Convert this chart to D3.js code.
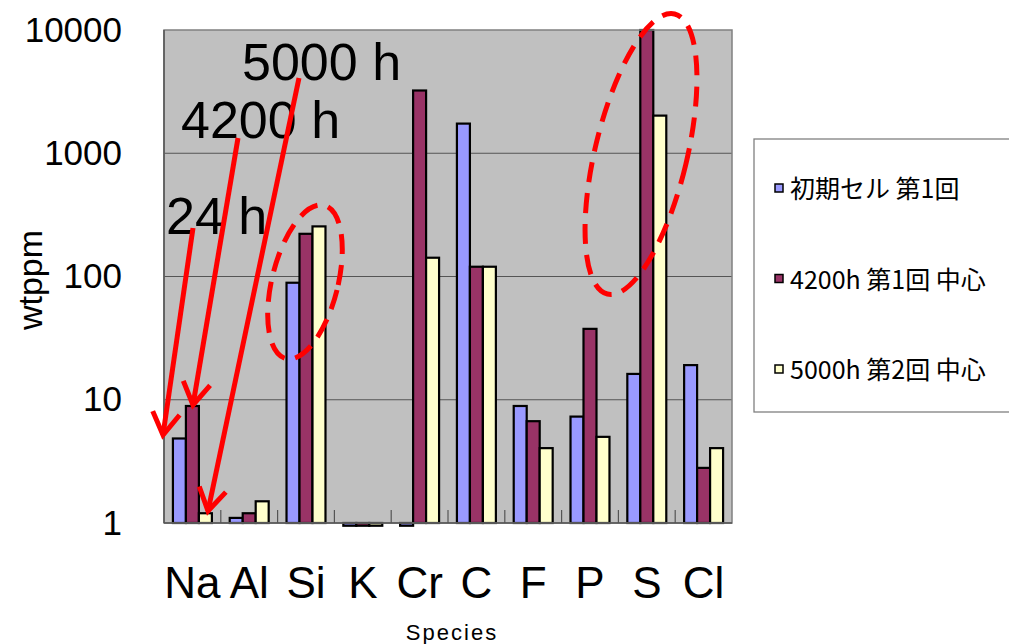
<!DOCTYPE html>
<html>
<head>
<meta charset="utf-8">
<script src="https://cdn.jsdelivr.net/npm/d3@7"></script>
<style>
  body { margin: 0; background: #fff; }
  text { font-family: "Liberation Sans", Arial, sans-serif; }
  .jp { font-family: "Noto Sans CJK JP", "Liberation Sans", sans-serif; }
</style>
</head>
<body>
<div id="chart"></div>
<script>
// data
const species = ["Na", "Al", "Si", "K", "Cr", "C", "F", "P", "S", "Cl"];
const seriesNames = ["初期セル 第1回", "4200h 第1回 中心", "5000h 第2回 中心"];
const initial = [4.85, 1.1, 89, 0.95, 0.95, 1740, 8.9, 7.3, 16.2, 19.1];
const h4200 = [8.9, 1.2, 222, 0.95, 3230, 120, 6.7, 37.6, 10000, 2.8];
const h5000 = [1.2, 1.5, 255, 0.95, 142, 120, 4.05, 5.0, 2020, 4.05];
const yTicks = [1, 10, 100, 1000, 10000];
const colors = ["#9999ff", "#993366", "#ffffcc"];

(function(){
	let svgWidth = 1009;
	let svgHeight = 644;
	let margin = { top: 30, right: 277, bottom: 121, left: 164 };
	let width = svgWidth - margin.left - margin.right;
	let height = svgHeight - margin.top - margin.bottom;

	let svg = d3.select("#chart").append("svg").attr("width", svgWidth).attr("height", svgHeight);

	let x = d3.scaleBand().domain(species).range([0, width]).paddingInner(0).paddingOuter(0);
	let xs = d3.scaleBand().domain([0, 1, 2]).range([x.bandwidth() * 0.157, x.bandwidth() * 0.843]);
	let y = d3.scaleLog().domain([1, 10000]).range([height, 0]);

	let g = svg.append("g").attr("transform", `translate(${margin.left}, ${margin.top})`);

	// plot background
	g.append("rect").attr("width", width).attr("height", height).attr("fill", "#c0c0c0");

	// gridlines
	g.selectAll(".grid").data(yTicks.slice(1, -1)).enter().append("line")
		.attr("x1", 0).attr("x2", width)
		.attr("y1", d => y(d)).attr("y2", d => y(d))
		.attr("stroke", "#555").attr("stroke-width", 1.2);

	// bars
	let data = [initial, h4200, h5000];
	data.forEach(function(vals, s){
		g.selectAll(".bar" + s).data(species).enter().append("rect")
			.attr("x", (d, i) => x(d) + xs(s))
			.attr("width", xs.bandwidth())
			.attr("y", (d, i) => Math.min(y(vals[i]), y(1)))
			.attr("height", (d, i) => Math.abs(y(1) - y(vals[i])))
			.attr("fill", colors[s])
			.attr("stroke", "#000")
			.attr("stroke-width", 2.2);
	});

	// plot border
	g.append("rect").attr("width", width).attr("height", height)
		.attr("fill", "none").attr("stroke", "#808080").attr("stroke-width", 1.5);
	g.append("line").attr("x1", 0).attr("x2", 0).attr("y1", 0).attr("y2", height)
		.attr("stroke", "#555").attr("stroke-width", 1.5);
	g.append("line").attr("x1", 0).attr("x2", width).attr("y1", height).attr("y2", height)
		.attr("stroke", "#555").attr("stroke-width", 1.5);

	// category ticks (inside)
	g.selectAll(".tick").data(species.slice(1)).enter().append("line")
		.attr("x1", d => x(d)).attr("x2", d => x(d))
		.attr("y1", height).attr("y2", height - 13)
		.attr("stroke", "#555").attr("stroke-width", 1.2);

	// y axis labels
	let yAxis = d3.axisLeft(y).tickValues(yTicks).tickFormat(d3.format("d")).tickSize(0).tickPadding(42);
	let ya = g.append("g").call(yAxis);
	ya.select(".domain").remove();
	ya.selectAll("text").attr("font-size", 35).attr("fill", "#000")
		.attr("font-family", "Liberation Sans, Arial, sans-serif");

	// x axis labels
	let xAxis = d3.axisBottom(x).tickSize(0).tickPadding(44);
	let xa = g.append("g").attr("transform", `translate(0, ${height})`).call(xAxis);
	xa.select(".domain").remove();
	xa.selectAll("text").attr("font-size", 44).attr("fill", "#000")
		.attr("font-family", "Liberation Sans, Arial, sans-serif");

	// axis titles
	svg.append("text").attr("x", 452).attr("y", 640).attr("text-anchor", "middle")
		.attr("font-size", 22).attr("letter-spacing", 2).text("Species");
	svg.append("text").attr("transform", "translate(42, 280) rotate(-90)")
		.attr("text-anchor", "middle").attr("font-size", 34).text("wtppm");

	// legend
	let lg = svg.append("g");
	lg.append("rect").attr("x", 754).attr("y", 139).attr("width", 270).attr("height", 273)
		.attr("fill", "#fff").attr("stroke", "#808080").attr("stroke-width", 1.3);
	seriesNames.forEach(function(name, i){
		let cy = 189 + i * 90.5;
		lg.append("rect").attr("x", 775).attr("y", cy - 5).attr("width", 8).attr("height", 8)
			.attr("fill", colors[i]).attr("stroke", "#000").attr("stroke-width", 1.5);
		lg.append("text").attr("class", "jp").attr("x", 790).attr("y", cy + 9)
			.attr("font-size", 25).text(name);
	});

	// annotations
	let notes = [
		{ t: "24 h", x: 166, y: 234 },
		{ t: "4200 h", x: 181, y: 138 },
		{ t: "5000 h", x: 242, y: 80 }
	];
	notes.forEach(function(n){
		svg.append("text").attr("x", n.x).attr("y", n.y).attr("font-size", 52).text(n.t);
	});

	let arrows = [
		{ x1: 193, y1: 228, x2: 163, y2: 435 },
		{ x1: 238, y1: 138, x2: 193, y2: 405 },
		{ x1: 299, y1: 78, x2: 208, y2: 511 }
	];
	arrows.forEach(function(a){
		let ang = Math.atan2(a.y2 - a.y1, a.x2 - a.x1);
		let len = 26;
		let pts = [-0.55, 0.55].map(d => [a.x2 - len * Math.cos(ang + d), a.y2 - len * Math.sin(ang + d)]);
		svg.append("line").attr("x1", a.x1).attr("y1", a.y1).attr("x2", a.x2).attr("y2", a.y2)
			.attr("stroke", "red").attr("stroke-width", 5);
		svg.append("path")
			.attr("d", `M${pts[0][0]},${pts[0][1]}L${a.x2},${a.y2}L${pts[1][0]},${pts[1][1]}`)
			.attr("fill", "none").attr("stroke", "red").attr("stroke-width", 5).attr("stroke-linejoin", "miter");
	});

	let ellipses = [
		{ cx: 305, cy: 282, rx: 33, ry: 79, rot: 14 },
		{ cx: 641, cy: 154, rx: 46, ry: 144, rot: 13.5 }
	];
	ellipses.forEach(function(e){
		svg.append("ellipse").attr("cx", 0).attr("cy", 0).attr("rx", e.rx).attr("ry", e.ry)
			.attr("transform", `translate(${e.cx}, ${e.cy}) rotate(${e.rot})`)
			.attr("fill", "none").attr("stroke", "red").attr("stroke-width", 5)
			.attr("stroke-dasharray", "20,11");
	});
})();
</script>
</body>
</html>
